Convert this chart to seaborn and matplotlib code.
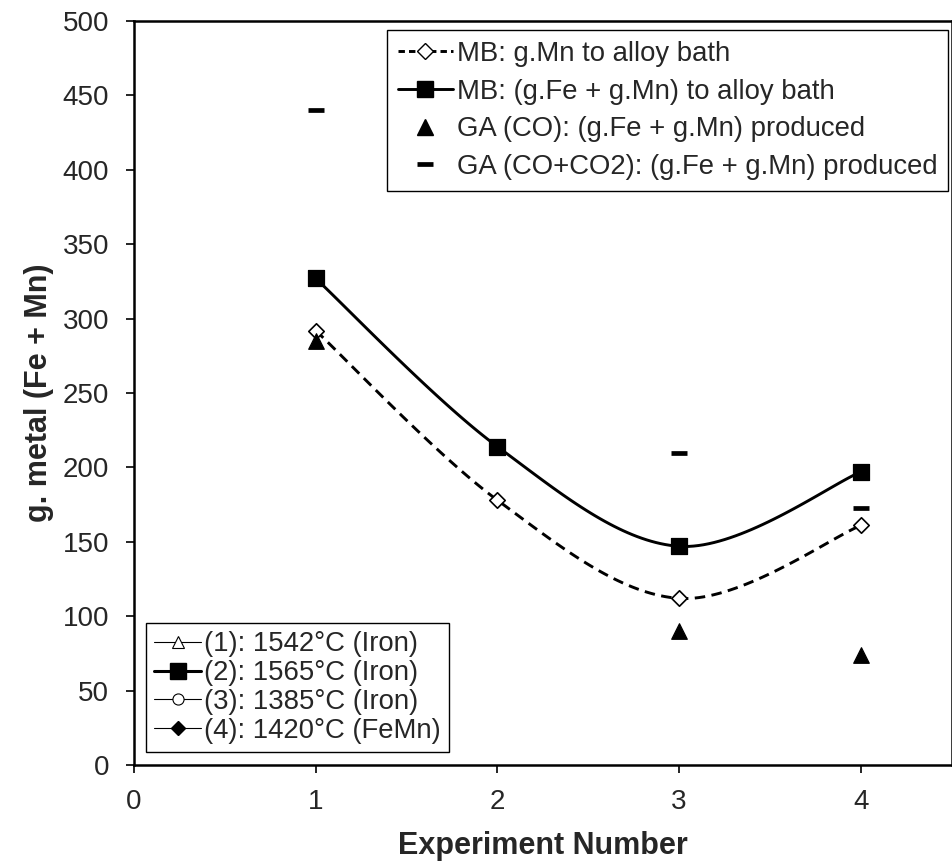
import numpy as np
import matplotlib
matplotlib.use("Agg")
import matplotlib.pyplot as plt
from matplotlib.lines import Line2D
import seaborn as sns

# data
experiments = [1, 2, 3, 4]
mb_mn = [292, 178, 112, 161]            # MB: g.Mn to alloy bath
mb_fe_mn = [327, 214, 147, 197]         # MB: (g.Fe + g.Mn) to alloy bath
ga_experiments = [1, 3, 4]
ga_co = [285, 90, 74]                   # GA (CO)
ga_co_co2 = [440, 210, 173]             # GA (CO+CO2)

legend_main = ["MB: g.Mn to alloy bath",
               "MB: (g.Fe + g.Mn) to alloy bath",
               "GA (CO): (g.Fe + g.Mn) produced",
               "GA (CO+CO2): (g.Fe + g.Mn) produced"]
legend_runs = ["(1): 1542°C (Iron)", "(2): 1565°C (Iron)",
               "(3): 1385°C (Iron)", "(4): 1420°C (FeMn)"]


def smooth(x, y, n=40):
    # Excel-style smoothed line (Catmull-Rom as cubic Bezier)
    x = np.asarray(x, float)
    y = np.asarray(y, float)
    px = np.concatenate([[x[0]], x, [x[-1]]])
    py = np.concatenate([[y[0]], y, [y[-1]]])
    t = np.linspace(0, 1, n)[:, None]
    xs, ys = [], []
    for i in range(1, len(px) - 2):
        p0 = np.array([px[i], py[i]])
        p3 = np.array([px[i + 1], py[i + 1]])
        c1 = p0 + (p3 - np.array([px[i - 1], py[i - 1]])) / 6
        c2 = p3 - (np.array([px[i + 2], py[i + 2]]) - p0) / 6
        b = ((1 - t) ** 3) * p0 + 3 * ((1 - t) ** 2) * t * c1 + 3 * (1 - t) * t ** 2 * c2 + t ** 3 * p3
        xs.extend(b[:, 0])
        ys.extend(b[:, 1])
    return xs, ys


sns.set_style("ticks")
plt.rcParams["font.family"] = ["Liberation Sans", "DejaVu Sans"]

fig = plt.figure(figsize=(9.53, 8.65), dpi=100)
ax = fig.add_axes([0.1406, 0.1156, 0.858, 0.860])

# smoothed lines
sx, sy = smooth(experiments, mb_mn)
sns.lineplot(x=sx, y=sy, ax=ax, color="black", linewidth=2.1, sort=False,
             linestyle=(0, (3.6, 2.2)))
sx, sy = smooth(experiments, mb_fe_mn)
sns.lineplot(x=sx, y=sy, ax=ax, color="black", linewidth=2.1, sort=False)

# markers
sns.scatterplot(x=experiments, y=mb_mn, ax=ax, marker="D", s=62,
                facecolor="white", edgecolor="black", linewidth=1.2, zorder=5)
sns.scatterplot(x=experiments, y=mb_fe_mn, ax=ax, marker="s", s=125,
                color="black", edgecolor="black", zorder=5)
sns.scatterplot(x=ga_experiments, y=ga_co, ax=ax, marker="^", s=125,
                color="black", edgecolor="black", zorder=5)
sns.scatterplot(x=ga_experiments, y=ga_co_co2, ax=ax, marker="_", s=130,
                color="black", linewidth=3.4, zorder=5)

ax.set_xlim(0, 4.5)
ax.set_ylim(0, 500)
ax.set_xticks([0, 1, 2, 3, 4])
ax.set_yticks(range(0, 501, 50))
ax.tick_params(axis="both", labelsize=20, length=6, width=1.2, color="black",
               direction="out")
ax.tick_params(axis="y", pad=12)
ax.tick_params(axis="x", pad=11)
for side in ["left", "right", "top", "bottom"]:
    ax.spines[side].set_visible(True)
    ax.spines[side].set_color("black")
    ax.spines[side].set_linewidth(1.8)

ax.set_xlabel("Experiment Number", fontsize=22, fontweight="bold", labelpad=12)
ax.set_ylabel("g. metal (Fe + Mn)", fontsize=22, fontweight="bold", labelpad=6)

# legend for the data series
h_main = [
    Line2D([], [], color="black", lw=2.1, ls=(0, (2.2, 1.4)), marker="D",
           markersize=8, markerfacecolor="white", markeredgecolor="black"),
    Line2D([], [], color="black", lw=2.1, marker="s", markersize=11),
    Line2D([], [], color="black", lw=0, marker="^", markersize=11),
    Line2D([], [], color="black", lw=0, marker="_", markersize=11, mew=3.4),
]
leg1 = ax.legend(h_main, legend_main, loc="upper right",
                 bbox_to_anchor=(0.996, 0.988), borderaxespad=0,
                 fontsize=19.8, frameon=True, fancybox=False, edgecolor="black",
                 framealpha=1, handlelength=2.0, handletextpad=0.15,
                 labelspacing=0.42, borderpad=0.4)
leg1.get_frame().set_linewidth(1.0)
ax.add_artist(leg1)

# legend for the runs
h_runs = [
    Line2D([], [], color="black", lw=0.8, marker="^", markersize=8,
           markerfacecolor="white", markeredgecolor="black", markeredgewidth=0.8),
    Line2D([], [], color="black", lw=2.2, marker="s", markersize=11),
    Line2D([], [], color="black", lw=0.8, marker="o", markersize=8,
           markerfacecolor="white", markeredgecolor="black", markeredgewidth=0.8),
    Line2D([], [], color="black", lw=0.8, marker="D", markersize=7),
]
leg2 = ax.legend(h_runs, legend_runs, loc="lower left",
                 bbox_to_anchor=(0.0147, 0.0175), borderaxespad=0,
                 fontsize=19.8, frameon=True, fancybox=False, edgecolor="black",
                 framealpha=1, handlelength=1.7, handletextpad=0.1,
                 labelspacing=0.1, borderpad=0.3)
leg2.get_frame().set_linewidth(1.0)

fig.savefig("out.png", dpi=100)
